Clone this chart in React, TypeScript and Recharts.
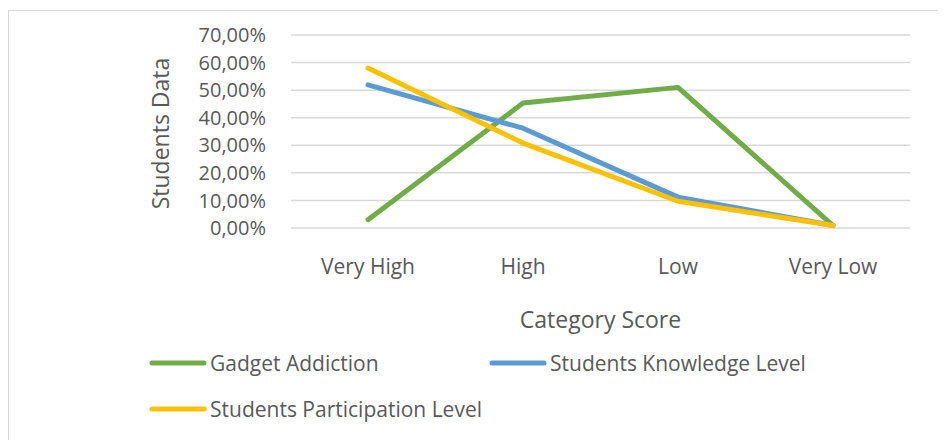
import { LineChart, Line, XAxis, YAxis, CartesianGrid } from "recharts";

const categories = ["Very High", "High", "Low", "Very Low"];
const gadgetAddiction = [3.0, 45.3, 51.0, 0.9];
const knowledgeLevel = [51.9, 36.2, 11.2, 0.9];
const participationLevel = [58.0, 30.8, 9.7, 0.9];
const yTicks = [0, 10, 20, 30, 40, 50, 60, 70];

const series = [
    { key: "gadget", name: "Gadget Addiction", color: "#70AD47" },
    { key: "knowledge", name: "Students Knowledge Level", color: "#5B9BD5" },
    { key: "participation", name: "Students Participation Level", color: "#FFC000" },
];

const data = categories.map((c, i) => ({
    category: c,
    gadget: gadgetAddiction[i],
    knowledge: knowledgeLevel[i],
    participation: participationLevel[i],
}));

const FONT = "'Open Sans', sans-serif";
const TEXT = "#595959";

const fmt = (v: number) => v.toFixed(2).replace(".", ",") + "%";

function LegendItem({ name, color, x, y }: { name: string; color: string; x: number; y: number }) {
    return (
        <div style={{ position: "absolute", left: x, top: y, display: "flex", alignItems: "center", height: 24 }}>
            <svg width={58} height={10} style={{ display: "block" }}>
                <line x1={3} y1={5} x2={55} y2={5} stroke={color} strokeWidth={5} strokeLinecap="round" />
            </svg>
            <span style={{ fontFamily: FONT, fontSize: 21, color: TEXT, whiteSpace: "nowrap", marginLeft: 3 }}>{name}</span>
        </div>
    );
}

export default function App() {
    return (
        <div style={{ position: "relative", width: 938, height: 430, marginTop: 2, borderLeft: "1.5px solid #D9D9D9", borderTop: "1.5px solid #D9D9D9", boxSizing: "border-box" }}>
            <div style={{ position: "absolute", left: -1.5, top: -3.5 }}>
                <LineChart width={938} height={432} data={data} margin={{ top: 27, right: 36, left: 0, bottom: 182 }}>
                    <CartesianGrid horizontal={true} vertical={false} stroke="#D9D9D9" strokeWidth={1.5} />
                    <XAxis
                        dataKey="category"
                        axisLine={false}
                        tickLine={false}
                        tickSize={0}
                        tickMargin={31}
                        interval={0}
                        padding={{ left: 77, right: 77 }}
                        tick={{ fill: TEXT, fontSize: 21, fontFamily: FONT }}
                        label={(props: any) => {
                            const vb = props.viewBox || { x: 283, y: 220, width: 619 };
                            return (
                                <text x={vb.x + vb.width / 2} y={311} textAnchor="middle" dominantBaseline="central" fill={TEXT} fontSize={23} fontFamily={FONT}>
                                    Category Score
                                </text>
                            );
                        }}
                    />
                    <YAxis
                        width={283}
                        domain={[0, 70]}
                        ticks={yTicks}
                        interval={0}
                        axisLine={false}
                        tickLine={false}
                        tickSize={0}
                        tickMargin={25}
                        tickFormatter={fmt}
                        tick={{ fill: TEXT, fontSize: 20, fontFamily: FONT }}
                        label={(props: any) => {
                            const vb = props.viewBox || { x: 0, y: 27, height: 193 };
                            const cy = vb.y + vb.height / 2 + 2;
                            return (
                                <text x={152} y={cy} transform={`rotate(-90 152 ${cy})`} textAnchor="middle" dominantBaseline="central" fill={TEXT} fontSize={23} fontFamily={FONT}>
                                    Students Data
                                </text>
                            );
                        }}
                    />
                    {series.map((s) => (
                        <Line
                            key={s.key}
                            dataKey={s.key}
                            name={s.name}
                            type="linear"
                            stroke={s.color}
                            strokeWidth={5}
                            strokeLinecap="round"
                            strokeLinejoin="round"
                            dot={false}
                            activeDot={false}
                            isAnimationActive={false}
                        />
                    ))}
                </LineChart>
            </div>
            <LegendItem name={series[0].name} color={series[0].color} x={140} y={340} />
            <LegendItem name={series[1].name} color={series[1].color} x={480} y={340} />
            <LegendItem name={series[2].name} color={series[2].color} x={140} y={386} />
        </div>
    );
}
